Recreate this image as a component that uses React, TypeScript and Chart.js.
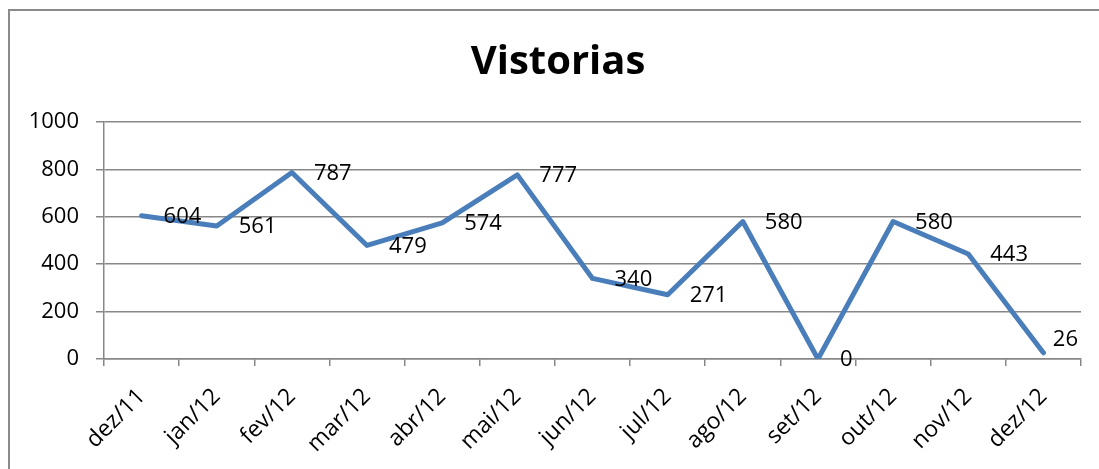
import React, { useEffect, useRef } from "react";
import { Chart, registerables } from "chart.js";

Chart.register(...registerables);

const categories = ["dez/11", "jan/12", "fev/12", "mar/12", "abr/12", "mai/12", "jun/12", "jul/12", "ago/12", "set/12", "out/12", "nov/12", "dez/12"];
const vistorias = [604, 561, 787, 479, 574, 777, 340, 271, 580, 0, 580, 443, 26];
const yTicks = [0, 200, 400, 600, 800, 1000];
const titleText = "Vistorias";

const FONT = "'Open Sans', 'DejaVu Sans', sans-serif";
const GRAY = "#878787";

const decorPlugin = {
  id: "decor",
  beforeDraw(chart: any) {
    const ctx = chart.ctx;
    ctx.save();
    ctx.strokeStyle = "#8a8a8a";
    ctx.lineWidth = 2;
    ctx.beginPath();
    ctx.moveTo(9, chart.height);
    ctx.lineTo(9, 10);
    ctx.lineTo(chart.width, 10);
    ctx.stroke();
    ctx.fillStyle = "#000";
    ctx.font = `bold 40px ${FONT}`;
    ctx.textAlign = "center";
    ctx.textBaseline = "alphabetic";
    ctx.fillText(titleText, 558, 74);
    ctx.restore();
  },
  afterDatasetsDraw(chart: any) {
    const ctx = chart.ctx;
    const meta = chart.getDatasetMeta(0);
    const area = chart.chartArea;
    ctx.save();
    ctx.font = `22px ${FONT}`;
    ctx.fillStyle = "#000";
    ctx.textAlign = "left";
    ctx.textBaseline = "middle";
    meta.data.forEach((pt: any, i: number) => {
      const txt = String(vistorias[i]);
      const w = ctx.measureText(txt).width;
      const clamped = pt.x + 22 + w > area.right - 3;
      const x = clamped ? area.right - w - 3 : pt.x + 22;
      const y = clamped ? pt.y - 13 : pt.y + 1;
      ctx.fillText(txt, x, y);
    });
    ctx.restore();
  },
};

export default function App() {
  const ref = useRef<HTMLCanvasElement | null>(null);
  useEffect(() => {
    document.body.style.margin = "0";
    const canvas = ref.current!;
    const chart = new Chart(canvas, {
      type: "line",
      data: {
        labels: categories,
        datasets: [
          {
            label: titleText,
            data: vistorias,
            borderColor: "#4A7EBB",
            borderWidth: 5,
            pointRadius: 0,
            pointHoverRadius: 0,
            tension: 0,
            borderJoinStyle: "round",
            borderCapStyle: "round",
            fill: false,
          },
        ],
      },
      options: {
        animation: false,
        responsive: false,
        devicePixelRatio: 1,
        layout: { padding: { top: 122, right: 18, left: 0, bottom: 0 } },
        plugins: {
          legend: { display: false },
          title: { display: false },
          tooltip: { enabled: false },
        },
        scales: {
          x: {
            type: "category",
            offset: true,
            afterFit(scale: any) {
              scale.height = 110;
            },
            grid: {
              display: true,
              drawOnChartArea: false,
              drawTicks: true,
              tickLength: 7,
              offset: true,
              color: GRAY,
              lineWidth: 1.5,
            },
            border: { display: true, color: GRAY, width: 1.5 },
            ticks: {
              color: "#000",
              font: { family: FONT, size: 23 },
              minRotation: 45,
              maxRotation: 45,
              autoSkip: false,
              padding: 17,
            },
          },
          y: {
            min: 0,
            max: 1000,
            afterFit(scale: any) {
              scale.width = 104;
            },
            afterBuildTicks(scale: any) {
              scale.ticks = yTicks.map((v) => ({ value: v }));
            },
            grid: {
              color: GRAY,
              lineWidth: 1.5,
              drawTicks: true,
              tickLength: 8,
            },
            border: { display: true, color: GRAY, width: 1.5 },
            ticks: {
              color: "#000",
              font: { family: FONT, size: 22 },
              padding: 17,
              callback: (v: any) => String(v),
            },
          },
        },
      },
      plugins: [decorPlugin],
    } as any);
    return () => chart.destroy();
  }, []);
  return <canvas ref={ref} width={1099} height={469} style={{ display: "block" }} />;
}
